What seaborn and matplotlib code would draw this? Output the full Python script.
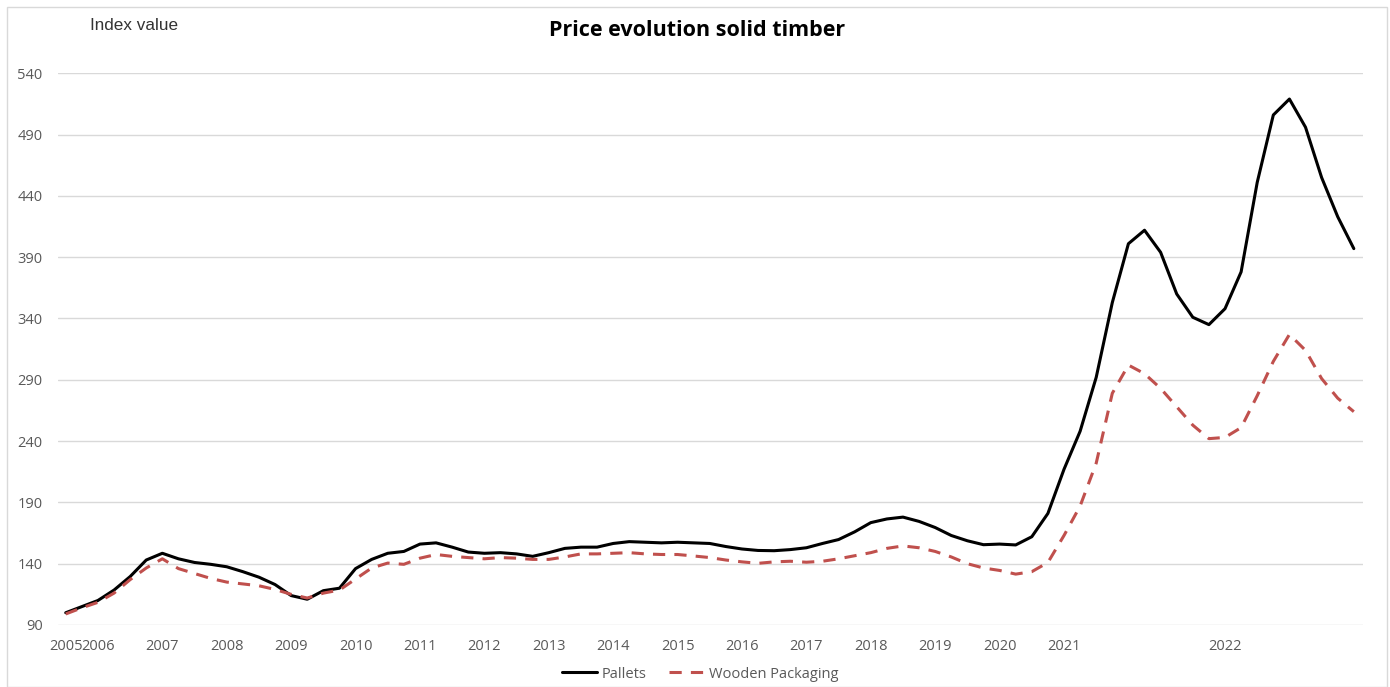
import matplotlib
matplotlib.use("Agg")
import matplotlib.pyplot as plt
import seaborn as sns
import pandas as pd
from matplotlib.patches import Rectangle

# ---- data (quarterly index values) ----
periods = [
    "2005", "", "2006", "", "", "", "2007", "", "", "",
    "2008", "", "", "", "2009", "", "", "", "2010", "",
    "", "", "2011", "", "", "", "2012", "", "", "",
    "2013", "", "", "", "2014", "", "", "", "2015", "",
    "", "", "2016", "", "", "", "2017", "", "", "",
    "2018", "", "", "", "2019", "", "", "", "2020", "",
    "", "", "2021", "", "", "", "", "", "", "",
    "", "", "2022", "", "", "", "", "", "", "",
    "",
]

pallets = [
    100, 105, 110, 118.5, 129.5, 143, 148.5, 144, 141, 139.5,
    137.5, 133.5, 129, 123, 114, 111, 118, 120, 136, 143.5,
    148.5, 150, 156, 157, 153.5, 149.5, 148.5, 149, 148, 146,
    149, 152.5, 153.5, 153.5, 156.5, 158, 157.5, 157, 157.5, 157,
    156.5, 154, 152, 150.8, 150.6, 151.5, 153, 156.5, 159.7, 166,
    173.5, 176.5, 178, 174.5, 169.5, 163, 158.7, 155.5, 156, 155.3,
    162, 181, 217, 248, 292, 353, 401, 412, 394, 360,
    341, 335, 348, 378, 451, 506, 519, 496, 455, 423,
    397,
]

wooden_packaging = [
    99, 104, 108.5, 116, 127, 136.5, 144, 136, 132, 128,
    125, 123.5, 122, 119, 115, 112, 116, 118.5, 127.5, 136.5,
    140.5, 139.5, 144.5, 147.5, 146, 145, 144, 145, 144.5, 143.5,
    143.5, 145.5, 148, 148, 148.5, 149, 148, 147.5, 147.5, 146.3,
    145, 143, 141.5, 140.3, 141.5, 142, 141.2, 142, 144, 146.5,
    149, 152.5, 154.5, 153, 150, 145.5, 140, 136.5, 134.5, 131.5,
    133.5, 141, 163, 187, 222, 279, 302, 295, 283, 268,
    253, 242, 243, 251, 277, 305, 327, 314, 291, 275,
    264,
]

series_names = ["Pallets", "Wooden Packaging"]
y_ticks = [90, 140, 190, 240, 290, 340, 390, 440, 490, 540]

# ---- build long-form table ----
n = len(periods)
df = pd.concat([
    pd.DataFrame({"pos": range(n), "value": pallets, "series": series_names[0]}),
    pd.DataFrame({"pos": range(n), "value": wooden_packaging, "series": series_names[1]}),
], ignore_index=True)

sns.set_theme(style="white")
plt.rcParams["font.family"] = ["Open Sans", "DejaVu Sans"]

W, H = 1390, 687
fig = plt.figure(figsize=(W / 100, H / 100), dpi=100)
ax = fig.add_axes([58 / W, 1 - 625 / H, (1363 - 58) / W, (625 - 73.3) / H])

palette = {"Pallets": "#000000", "Wooden Packaging": "#C0504D"}
dashes = {"Pallets": "", "Wooden Packaging": (4, 3)}
sns.lineplot(data=df, x="pos", y="value", hue="series", style="series",
             palette=palette, dashes=dashes, linewidth=2.2, ax=ax,
             hue_order=series_names, style_order=series_names)

ax.set_xlim(-0.48, n - 1 + 0.57)
ax.set_ylim(y_ticks[0], y_ticks[-1])
ax.set_yticks(y_ticks)
ax.set_yticklabels([str(t) for t in y_ticks])
ax.set_xticks(range(n))
ax.set_xticklabels(periods)
ax.set_xlabel("")
ax.set_ylabel("")
ax.grid(axis="y", color="#d9d9d9", linewidth=1)
ax.grid(axis="x", visible=False)
for s in ax.spines.values():
    s.set_visible(False)
ax.tick_params(axis="both", length=0, labelsize=10.5, labelcolor="#595959")
ax.tick_params(axis="y", pad=11)
ax.tick_params(axis="x", pad=10)

# legend at bottom
handles, labels = ax.get_legend_handles_labels()
ax.get_legend().remove()
leg = fig.legend(handles, labels, loc="center", bbox_to_anchor=(700 / W, 1 - 674 / H),
                 ncol=2, frameon=False, fontsize=10.5, handlelength=2.4,
                 columnspacing=1.6, handletextpad=0.3)
for t in leg.get_texts():
    t.set_color("#595959")

# titles
fig.text(697 / W, 1 - 31 / H, "Price evolution solid timber", ha="center", va="center",
         fontsize=15.5, fontweight="bold", color="#000000")
fig.text(90 / W, 1 - 25 / H, "Index value", ha="left", va="center",
         fontsize=12.3, color="#333333", family=["Liberation Sans", "DejaVu Sans"])

# chart border
fig.patches.append(Rectangle((7 / W, 0.5 / H), (1387 - 7) / W, (H - 7.5) / H,
                             transform=fig.transFigure, fill=False,
                             edgecolor="#d9d9d9", linewidth=1))

fig.savefig("out.png", dpi=100)
